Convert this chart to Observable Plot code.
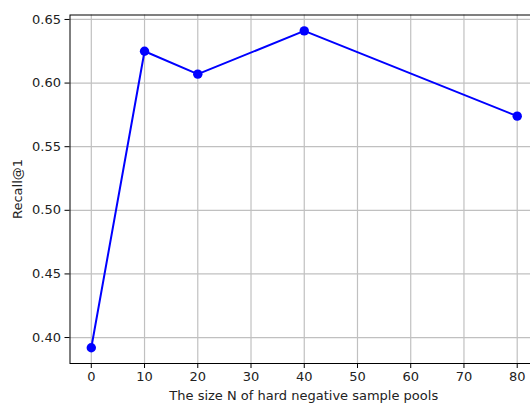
<!DOCTYPE html>
<html><head><meta charset="utf-8">
<script src="https://cdn.jsdelivr.net/npm/d3@7"></script>
<script src="https://cdn.jsdelivr.net/npm/@observablehq/plot@0.6"></script>
<style>
html,body{margin:0;padding:0;background:#fff;overflow:hidden;width:530px;height:403px}
svg{display:block;max-width:none !important}
</style></head><body><div id="chart"></div>
<script>
const poolSizes = [0, 10, 20, 40, 80];
const recallAt1 = [0.392, 0.625, 0.607, 0.641, 0.574];
const xTicks = [0, 10, 20, 30, 40, 50, 60, 70, 80];
const yTicks = [0.40, 0.45, 0.50, 0.55, 0.60, 0.65];
const xLabel = "The size N of hard negative sample pools";
const yLabel = "Recall@1";

const data = poolSizes.map((n, i) => ({n, r: recallAt1[i]}));
const font = "DejaVu Sans, sans-serif";
const fs = "13px";

const chart = Plot.plot({
  width: 540, height: 403,
  marginLeft: 69.5, marginRight: 2, marginTop: 14.5, marginBottom: 40,
  style: {fontFamily: font, fontSize: fs, color: "#222", background: "#fff", overflow: "visible", maxWidth: "none"},
  x: {domain: [-4, 84]},
  y: {domain: [0.3796, 0.6535]},
  marks: [
    Plot.gridX(xTicks, {stroke: "#c0c0c0", strokeOpacity: 1, strokeWidth: 1.2}),
    Plot.gridY(yTicks, {stroke: "#c0c0c0", strokeOpacity: 1, strokeWidth: 1.2}),
    Plot.frame({stroke: "#000", strokeWidth: 1}),
    Plot.axisX(xTicks, {tickSize: 5, tickPadding: 3, stroke: "#000", fill: "#222", label: null, tickFormat: d => String(d)}),
    Plot.axisY(yTicks, {tickSize: 5, tickPadding: 4, stroke: "#000", fill: "#222", label: null, tickFormat: d => d.toFixed(2)}),
    Plot.line(data, {x: "n", y: "r", stroke: "#0000ff", strokeWidth: 2}),
    Plot.dot(data, {x: "n", y: "r", fill: "#0000ff", r: 4.7})
  ]
});

const svg = d3.select(chart);
svg.append("text").attr("x", 303.75).attr("y", 400).attr("text-anchor", "middle")
  .attr("font-family", font).attr("font-size", fs).attr("fill", "#222").text(xLabel);
svg.append("text").attr("transform", "translate(22,189) rotate(-90)").attr("text-anchor", "middle")
  .attr("font-family", font).attr("font-size", fs).attr("fill", "#222").text(yLabel);

document.getElementById("chart").appendChild(chart);
</script></body></html>
